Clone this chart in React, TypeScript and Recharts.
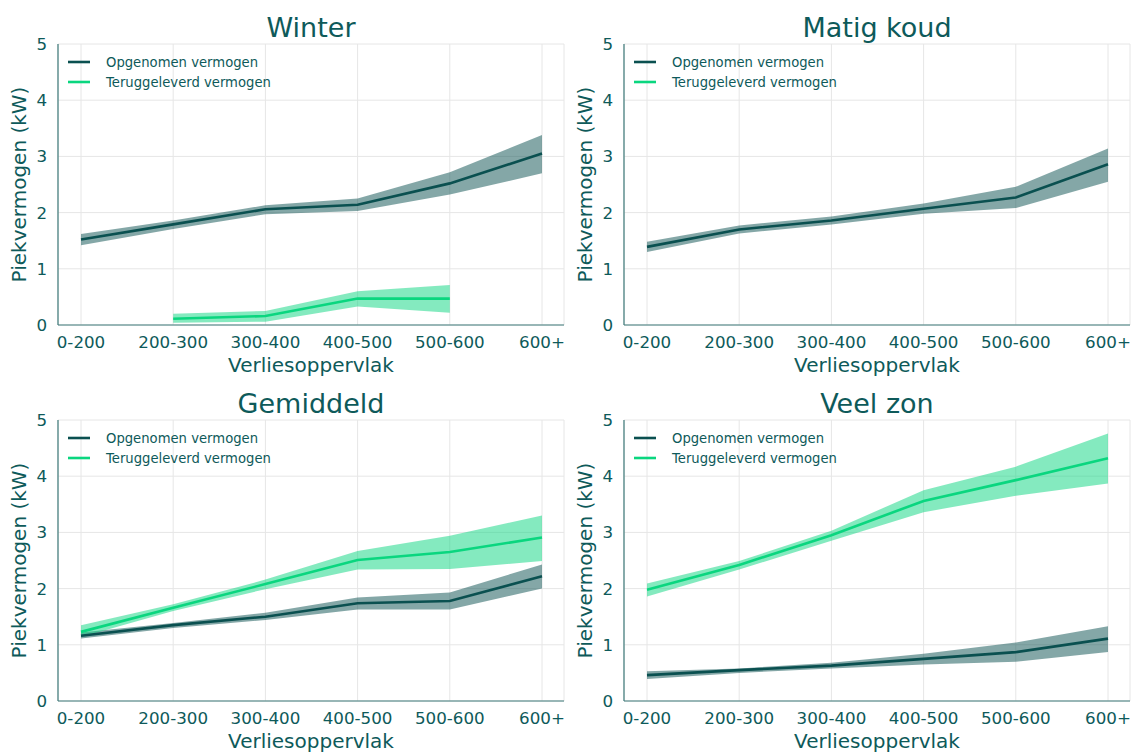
import React from "react"
import { ComposedChart, Line, Area, XAxis, YAxis, CartesianGrid } from "recharts"

// categories on the x axis
const categories = ["0-200", "200-300", "300-400", "400-500", "500-600", "600+"]
const yTicks = [0, 1, 2, 3, 4, 5]

// Winter
const winterOp = [1.52, 1.79, 2.06, 2.14, 2.52, 3.05]
const winterOpLow = [1.42, 1.71, 1.97, 2.03, 2.32, 2.7]
const winterOpHigh = [1.62, 1.86, 2.13, 2.25, 2.72, 3.38]
const winterTerug = [null, 0.11, 0.16, 0.47, 0.47, null]
const winterTerugLow = [null, 0.04, 0.06, 0.33, 0.22, null]
const winterTerugHigh = [null, 0.2, 0.25, 0.6, 0.71, null]

// Matig koud
const matigOp = [1.39, 1.7, 1.86, 2.07, 2.27, 2.86]
const matigOpLow = [1.3, 1.63, 1.79, 1.98, 2.08, 2.55]
const matigOpHigh = [1.48, 1.77, 1.93, 2.16, 2.46, 3.14]
const matigTerug = [null, null, null, null, null, null]
const matigTerugLow = [null, null, null, null, null, null]
const matigTerugHigh = [null, null, null, null, null, null]

// Gemiddeld
const gemOp = [1.16, 1.35, 1.5, 1.74, 1.78, 2.22]
const gemOpLow = [1.11, 1.3, 1.44, 1.63, 1.63, 2.0]
const gemOpHigh = [1.22, 1.39, 1.57, 1.84, 1.93, 2.43]
const gemTerug = [1.23, 1.66, 2.08, 2.51, 2.65, 2.91]
const gemTerugLow = [1.14, 1.6, 1.99, 2.34, 2.35, 2.49]
const gemTerugHigh = [1.35, 1.72, 2.16, 2.67, 2.94, 3.3]

// Veel zon
const zonOp = [0.46, 0.55, 0.63, 0.75, 0.87, 1.11]
const zonOpLow = [0.39, 0.5, 0.58, 0.65, 0.7, 0.87]
const zonOpHigh = [0.53, 0.58, 0.68, 0.84, 1.04, 1.33]
const zonTerug = [1.98, 2.42, 2.95, 3.56, 3.93, 4.32]
const zonTerugLow = [1.86, 2.34, 2.85, 3.36, 3.65, 3.87]
const zonTerugHigh = [2.09, 2.49, 3.03, 3.75, 4.17, 4.76]

const TEXT = "#0e5a5a"
const DARK = "#0a5050"
const GREEN = "#0ad67f"
const SPINE = "#3f7b7b"
const GRID = "#e6e6e6"
const FONT = "'DejaVu Sans', sans-serif"

type Num = number | null

function buildRows(op: Num[], opLow: Num[], opHigh: Num[], t: Num[], tLow: Num[], tHigh: Num[]) {
  return categories.map((cat, i) => ({
    cat,
    op: op[i],
    opBand: opLow[i] == null ? null : [opLow[i], opHigh[i]],
    terug: t[i],
    terugBand: tLow[i] == null ? null : [tLow[i], tHigh[i]],
  }))
}

const panels = [
  { title: "Winter", ox: 0, oy: 0, rows: buildRows(winterOp, winterOpLow, winterOpHigh, winterTerug, winterTerugLow, winterTerugHigh) },
  { title: "Matig koud", ox: 566, oy: 0, rows: buildRows(matigOp, matigOpLow, matigOpHigh, matigTerug, matigTerugLow, matigTerugHigh) },
  { title: "Gemiddeld", ox: 0, oy: 376, rows: buildRows(gemOp, gemOpLow, gemOpHigh, gemTerug, gemTerugLow, gemTerugHigh) },
  { title: "Veel zon", ox: 566, oy: 376, rows: buildRows(zonOp, zonOpLow, zonOpHigh, zonTerug, zonTerugLow, zonTerugHigh) },
]

function Panel({ rows }: { rows: any[] }) {
  return (
    <ComposedChart width={566} height={376} data={rows} margin={{ top: 44, right: 2, left: 0, bottom: 0 }}>
      <CartesianGrid stroke={GRID} strokeWidth={1} />
      <XAxis
        dataKey="cat"
        scale="point"
        padding={{ left: 23, right: 22 }}
        height={51}
        interval={0}
        tickLine={false}
        tickSize={0}
        tickMargin={11}
        axisLine={{ stroke: SPINE, strokeWidth: 1.2 }}
        tick={{ fill: TEXT, fontSize: 16.7, fontFamily: FONT }}
      />
      <YAxis
        type="number"
        domain={[0, 5]}
        ticks={yTicks}
        width={58}
        interval={0}
        tickLine={false}
        tickSize={0}
        tickMargin={11}
        axisLine={{ stroke: SPINE, strokeWidth: 1.2 }}
        tick={{ fill: TEXT, fontSize: 16.7, fontFamily: FONT }}
      />
      <Area dataKey="opBand" stroke="none" fill={DARK} fillOpacity={0.5} isAnimationActive={false} activeDot={false} />
      <Area dataKey="terugBand" stroke="none" fill={GREEN} fillOpacity={0.5} isAnimationActive={false} activeDot={false} />
      <Line dataKey="op" stroke={DARK} strokeWidth={2.6} dot={false} activeDot={false} isAnimationActive={false} />
      <Line dataKey="terug" stroke={GREEN} strokeWidth={2.6} dot={false} activeDot={false} isAnimationActive={false} />
    </ComposedChart>
  )
}

export default function App() {
  return (
    <div style={{ position: "absolute", left: 0, top: 0, width: 1132, height: 752, background: "#fff", fontFamily: FONT }}>
      {panels.map((p) => (
        <div key={p.title} style={{ position: "absolute", left: p.ox, top: p.oy, width: 566, height: 376 }}>
          <Panel rows={p.rows} />
        </div>
      ))}
      <svg width={1132} height={752} style={{ position: "absolute", left: 0, top: 0, pointerEvents: "none" }} fontFamily={FONT}>
        {panels.map((p) => (
          <g key={p.title} transform={`translate(${p.ox},${p.oy})`}>
            <text x={311} y={37} textAnchor="middle" fontSize={27} fill={TEXT}>{p.title}</text>
            <text x={311} y={372} textAnchor="middle" fontSize={20} fill={TEXT}>Verliesoppervlak</text>
            <text transform="translate(26,184.5) rotate(-90)" textAnchor="middle" fontSize={20} fill={TEXT}>Piekvermogen (kW)</text>
            <line x1={68} x2={90} y1={62} y2={62} stroke={DARK} strokeWidth={2.6} />
            <text x={106} y={66.7} fontSize={13.2} fill={TEXT}>Opgenomen vermogen</text>
            <line x1={68} x2={90} y1={82} y2={82} stroke={GREEN} strokeWidth={2.6} />
            <text x={106} y={86.7} fontSize={13.2} fill={TEXT}>Teruggeleverd vermogen</text>
          </g>
        ))}
      </svg>
    </div>
  )
}
